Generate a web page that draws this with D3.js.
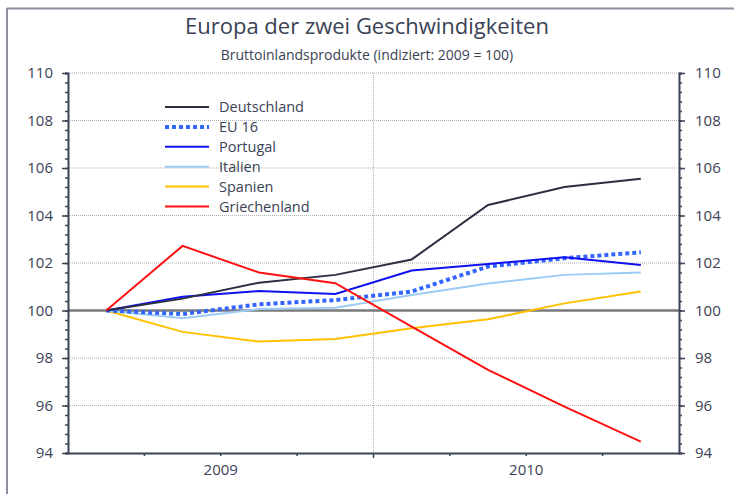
<!DOCTYPE html>
<html>
<head>
<meta charset="utf-8">
<title>Europa der zwei Geschwindigkeiten</title>
<script src="https://d3js.org/d3.v7.min.js"></script>
<style>
  body { margin: 0; background: #fff; }
  text { font-family: "Open Sans", "DejaVu Sans", sans-serif; fill: #3a4255; }
</style>
</head>
<body>
<div id="chart"></div>
<script>
// quarters 2009 / 2010
var quarters = ["2009 Q1", "2009 Q2", "2009 Q3", "2009 Q4", "2010 Q1", "2010 Q2", "2010 Q3", "2010 Q4"];
var years = ["2009", "2010"];
var yTicks = [94, 96, 98, 100, 102, 104, 106, 108, 110];

var seriesNames = ["Deutschland", "EU 16", "Portugal", "Italien", "Spanien", "Griechenland"];
var deutschland  = [100, 100.5, 101.17, 101.5, 102.15, 104.44, 105.2, 105.55];
var eu16         = [100, 99.85, 100.26, 100.44, 100.8, 101.85, 102.2, 102.45];
var portugal     = [100, 100.58, 100.82, 100.7, 101.68, 101.96, 102.24, 101.92];
var italien      = [100, 99.67, 100.06, 100.12, 100.65, 101.14, 101.5, 101.6];
var spanien      = [100, 99.1, 98.69, 98.8, 99.25, 99.63, 100.3, 100.8];
var griechenland = [100, 102.72, 101.6, 101.15, 99.32, 97.5, 95.95, 94.48];

var seriesValues = [deutschland, eu16, portugal, italien, spanien, griechenland];
var colors = ["#2b3040", "#3366ff", "#1010f0", "#9ccbf5", "#ffc000", "#ff1010"];
var widths = [2, 4, 2, 2, 2, 2];
var dashes = [null, "4,3", null, null, null, null];

var W = 734, H = 494;
var plotLeft = 68, plotRight = 679, plotTop = 73, plotBottom = 453;

var svg = d3.select("#chart").append("svg")
    .attr("width", W).attr("height", H);

// frame (top and left)
svg.append("line").attr("x1", 7).attr("x2", W).attr("y1", 8.5).attr("y2", 8.5)
    .attr("stroke", "#8a8f9c").attr("stroke-width", 2);
svg.append("line").attr("x1", 7).attr("x2", 7).attr("y1", 8).attr("y2", H)
    .attr("stroke", "#8a8f9c").attr("stroke-width", 2);

svg.append("text").attr("x", 367).attr("y", 34).attr("text-anchor", "middle")
    .style("font-size", "22px").text("Europa der zwei Geschwindigkeiten");
svg.append("text").attr("x", 367).attr("y", 60).attr("text-anchor", "middle")
    .style("font-size", "14px").text("Bruttoinlandsprodukte (indiziert: 2009 = 100)");

var x = d3.scalePoint().domain(quarters).range([plotLeft, plotRight]).padding(0.5);
var xBand = d3.scaleBand().domain(quarters).range([plotLeft, plotRight]);
var xYear = d3.scaleBand().domain(years).range([plotLeft, plotRight]);
var y = d3.scaleLinear().domain([94, 110]).range([plotBottom, plotTop]);

// horizontal grid
svg.append("g").selectAll("line").data(yTicks.filter(function (d) { return d != 100 && d != 94; }))
    .enter().append("line")
    .attr("x1", plotLeft).attr("x2", plotRight)
    .attr("y1", function (d) { return y(d); }).attr("y2", function (d) { return y(d); })
    .attr("stroke", "#b0b0b0").attr("stroke-width", 1).attr("stroke-dasharray", "1,1");

// vertical grid at year boundary
svg.append("line")
    .attr("x1", xYear("2010")).attr("x2", xYear("2010"))
    .attr("y1", plotTop).attr("y2", plotBottom)
    .attr("stroke", "#b0b0b0").attr("stroke-width", 1).attr("stroke-dasharray", "1,1");

// 100 line
svg.append("line").attr("x1", plotLeft).attr("x2", plotRight)
    .attr("y1", y(100)).attr("y2", y(100))
    .attr("stroke", "#7a7a7a").attr("stroke-width", 2.5);

// left axis: minor ticks every 0.4, labelled ticks every 2
var minor = d3.range(94, 110.01, 0.4);
var yAxisL = svg.append("g").attr("transform", "translate(" + plotLeft + ",0)");
yAxisL.call(d3.axisLeft(y).tickValues(minor).tickSize(3).tickFormat(""));
yAxisL.select(".domain").attr("stroke", "#3a4255").attr("stroke-width", 2);
yAxisL.selectAll(".tick line").attr("stroke", "#3a4255").attr("stroke-width", 1.5);
var yAxisL2 = svg.append("g").attr("transform", "translate(" + plotLeft + ",0)");
yAxisL2.call(d3.axisLeft(y).tickValues(yTicks).tickSize(6).tickPadding(9));
yAxisL2.select(".domain").remove();
yAxisL2.selectAll(".tick line").attr("stroke", "#3a4255").attr("stroke-width", 1.5);
yAxisL2.selectAll(".tick text").style("font-size", "15px").attr("fill", "#3a4255");

// right axis
var yAxisR = svg.append("g").attr("transform", "translate(" + plotRight + ",0)");
yAxisR.call(d3.axisRight(y).tickValues(minor).tickSize(3).tickFormat(""));
yAxisR.select(".domain").attr("stroke", "#3a4255").attr("stroke-width", 2);
yAxisR.selectAll(".tick line").attr("stroke", "#3a4255").attr("stroke-width", 1.5);
var yAxisR2 = svg.append("g").attr("transform", "translate(" + plotRight + ",0)");
yAxisR2.call(d3.axisRight(y).tickValues(yTicks).tickSize(6).tickPadding(10));
yAxisR2.select(".domain").remove();
yAxisR2.selectAll(".tick line").attr("stroke", "#3a4255").attr("stroke-width", 1.5);
yAxisR2.selectAll(".tick text").style("font-size", "15px").attr("fill", "#3a4255");

// bottom axis
var xAxis = svg.append("g").attr("transform", "translate(0," + plotBottom + ")");
xAxis.call(d3.axisBottom(xYear).tickSize(0).tickPadding(11));
xAxis.select(".domain").attr("stroke", "#3a4255").attr("stroke-width", 2);
xAxis.selectAll(".tick text").style("font-size", "15px").attr("fill", "#3a4255");
xAxis.selectAll("line.qtick").data(quarters.slice(1))
    .enter().append("line").attr("class", "qtick")
    .attr("x1", function (d) { return xBand(d); }).attr("x2", function (d) { return xBand(d); })
    .attr("y1", 0).attr("y2", function (d, i) { return i == 3 ? 5 : 3; })
    .attr("stroke", "#3a4255").attr("stroke-width", 1.5);

// lines
var line = d3.line()
    .x(function (d, i) { return x(quarters[i]); })
    .y(function (d) { return y(d); });

var drawOrder = [4, 3, 1, 2, 0, 5];
drawOrder.forEach(function (k) {
    svg.append("path").datum(seriesValues[k])
        .attr("fill", "none")
        .attr("stroke", colors[k])
        .attr("stroke-width", widths[k])
        .attr("stroke-dasharray", dashes[k])
        .attr("d", line);
});

// legend
var legend = svg.append("g").attr("transform", "translate(165,107)");
seriesNames.forEach(function (name, i) {
    var row = legend.append("g").attr("transform", "translate(0," + (i * 19.9) + ")");
    row.append("line").attr("x1", 0).attr("x2", 44).attr("y1", 0).attr("y2", 0)
        .attr("stroke", colors[i]).attr("stroke-width", widths[i])
        .attr("stroke-dasharray", dashes[i]);
    row.append("text").attr("x", 54).attr("y", 5).style("font-size", "14.5px").text(name);
});
</script>
</body>
</html>
